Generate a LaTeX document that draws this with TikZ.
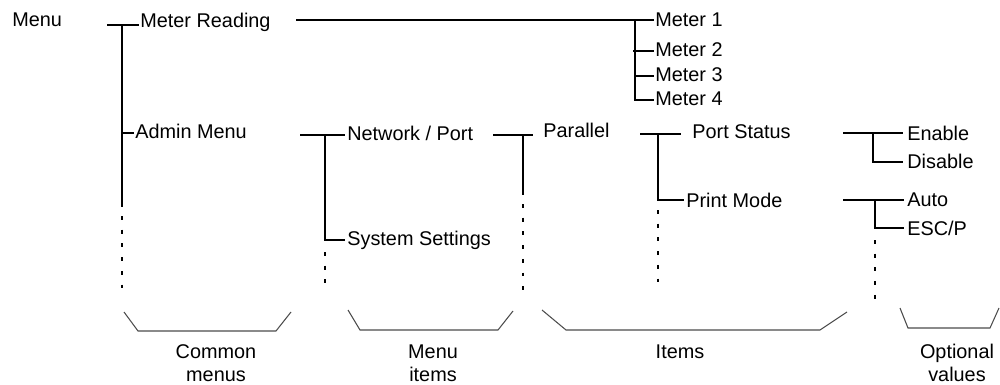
\documentclass[tikz,border=0pt]{standalone}
\usepackage{fontspec}
\setmainfont{Liberation Sans}
\begin{document}
\begin{tikzpicture}[x=0.02cm,y=-0.02cm,
  tree/.style={line width=1.1pt,black},
  dotline/.style={line width=1.1pt,black,dash pattern=on 2.2pt off 5.6pt},
  bracket/.style={line width=0.6pt,black!70},
  lbl/.style={font=\fontsize{11.3}{13.6}\selectfont,inner sep=0pt,anchor=base west},
  grouplabel/.style={font=\fontsize{11.3}{13.2}\selectfont,inner sep=0pt,anchor=north,align=center}]
\useasboundingbox (0,0) rectangle (1000,385);

% text nodes
\node[lbl] (menu) at (12,27) {Menu};
\node[lbl] (mr) at (140,28) {Meter Reading};
\node[lbl] (m1) at (655,27) {Meter 1};
\node[lbl] (m2) at (655,57) {Meter 2};
\node[lbl] (m3) at (655,82) {Meter 3};
\node[lbl] (m4) at (655,106) {Meter 4};
\node[lbl] (am) at (135,138) {Admin Menu};
\node[lbl] (np) at (347,140) {Network / Port};
\node[lbl] (ss) at (347,245) {System Settings};
\node[lbl] (par) at (543,137) {Parallel};
\node[lbl] (ps) at (692,138) {Port Status};
\node[lbl] (pm) at (686,207) {Print Mode};
\node[lbl] (en) at (907,140) {Enable};
\node[lbl] (dis) at (907,168) {Disable};
\node[lbl] (auto) at (907,206) {Auto};
\node[lbl] (esc) at (907,235) {ESC/P};

\node[grouplabel] (cm) at (216,344) {Common\\menus};
\node[grouplabel] (mi) at (433,344) {Menu\\items};
\node[grouplabel] (it) at (680,344) {Items};
\node[grouplabel] (ov) at (957,344) {Optional\\values};

% common menus
\coordinate (a0) at (107,25);
\coordinate (a1) at (122,25);
\coordinate (a2) at (122,133);
\coordinate (a3) at (122,207);
\coordinate (a4) at (122,216);
\coordinate (a5) at (122,292);
\draw[tree] (a0) -- ([xshift=-0.5pt]mr.west |- a0);
\draw[tree] (a1) -- (a3);
\draw[tree] (a2) -- ([xshift=-0.5pt]am.west |- a2);
\draw[dotline] (a4) -- (a5);

% meters
\coordinate (b0) at (296,20);
\coordinate (b1) at (635,20);
\coordinate (b2) at (633,51);
\coordinate (b3) at (635,76);
\coordinate (b4) at (635,100);
\draw[tree] (b0) -- ([xshift=-0.5pt]m1.west |- b0);
\draw[tree] (b1) -- (b4) -- ([xshift=-0.5pt]m4.west |- b4);
\draw[tree] (b2) -- ([xshift=-0.5pt]m2.west |- b2);
\draw[tree] (b3) -- ([xshift=-0.5pt]m3.west |- b3);

% admin menu -> menu items
\coordinate (c0) at (300,135);
\coordinate (c1) at (325,135);
\coordinate (c2) at (325,240);
\coordinate (c3) at (325,252);
\coordinate (c4) at (325,290);
\draw[tree] (c0) -- ([xshift=-1pt]np.west |- c0);
\draw[tree] (c1) -- (c2) -- ([xshift=-1pt]ss.west |- c2);
\draw[dotline] (c3) -- (c4);

% network/port -> parallel
\coordinate (d0) at (493,135);
\coordinate (d1) at (523,135);
\coordinate (d2) at (523,195);
\coordinate (d3) at (523,204);
\coordinate (d4) at (523,292);
\draw[tree] (d0) -- ([xshift=-5.5pt]par.west |- d0);
\draw[tree] (d1) -- (d2);
\draw[dotline] (d3) -- (d4);

% parallel -> items
\coordinate (e0) at (640,134);
\coordinate (e1) at (658,134);
\coordinate (e2) at (658,200);
\coordinate (e3) at (658,210);
\coordinate (e4) at (658,290);
\draw[tree] (e0) -- ([xshift=-6.5pt]ps.west |- e0);
\draw[tree] (e1) -- (e2) -- ([xshift=-1pt]pm.west |- e2);
\draw[dotline] (e3) -- (e4);

% port status -> values
\coordinate (f0) at (843,133);
\coordinate (f1) at (873,133);
\coordinate (f2) at (873,162);
\draw[tree] (f0) -- ([xshift=-2.5pt]en.west |- f0);
\draw[tree] (f1) -- (f2) -- ([xshift=-2.5pt]dis.west |- f2);

% print mode -> values
\coordinate (g0) at (843,200);
\coordinate (g1) at (875,200);
\coordinate (g2) at (875,228);
\coordinate (g3) at (875,240);
\coordinate (g4) at (875,302);
\draw[tree] (g0) -- ([xshift=-2pt]auto.west |- g0);
\draw[tree] (g1) -- (g2) -- ([xshift=-2pt]esc.west |- g2);
\draw[dotline] (g3) -- (g4);

% brackets
\draw[bracket] (124,312) -- (138,331) -- (276,331) -- (291,312);
\draw[bracket] (348,310) -- (360,330) -- (498,330) -- (513,311);
\draw[bracket] (542,310) -- (566,330) -- (820,330) -- (847,312);
\draw[bracket] (900,308) -- (908,328) -- (990,328) -- (999,308);
\end{tikzpicture}
\end{document}
